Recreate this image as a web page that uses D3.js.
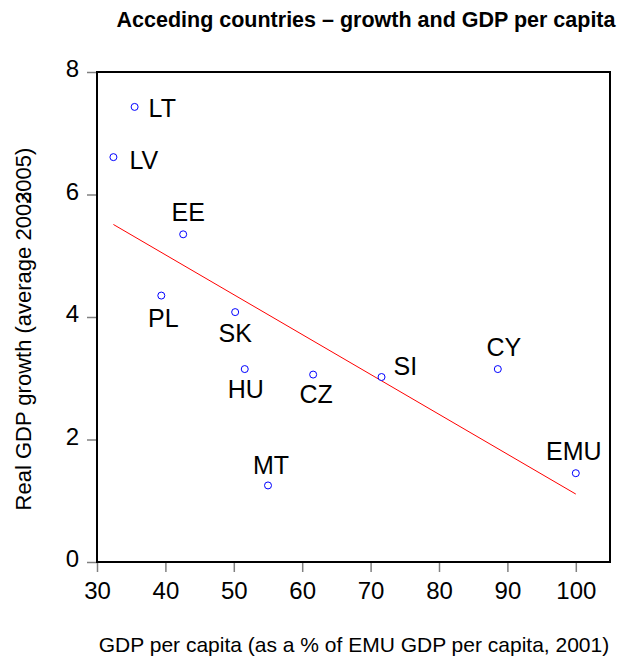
<!DOCTYPE html>
<html>
<head>
<meta charset="utf-8">
<script src="https://cdn.jsdelivr.net/npm/d3@7"></script>
<style>
  body { margin: 0; background: #fff; }
  svg text { font-family: Arial, "Liberation Sans", sans-serif; }
</style>
</head>
<body>
<div id="chart"></div>
<script>
// country codes and values
const countries = ["LT", "LV", "EE", "PL", "SK", "HU", "CZ", "SI", "CY", "MT", "EMU"];
// GDP per capita, % of EMU GDP per capita (2001)
const gdpPerCapita = [35.5, 32.4, 42.6, 39.4, 50.2, 51.6, 61.6, 71.6, 88.6, 55.0, 100.0];
// real GDP growth, average 2003-2005
const gdpGrowth = [7.43, 6.61, 5.35, 4.35, 4.08, 3.15, 3.06, 3.02, 3.15, 1.25, 1.45];

const xTicks = [30, 40, 50, 60, 70, 80, 90, 100];
const yTicks = [0, 2, 4, 6, 8];

// where each label sits relative to its point
const labelPlace = {
  LT: [14, 1, "start"], LV: [16, 3, "start"], EE: [5, -22, "middle"],
  PL: [2, 22, "middle"], SK: [0, 21, "middle"], HU: [1, 20, "middle"],
  CZ: [3, 19, "middle"], SI: [12, -11, "start"], CY: [6, -22, "middle"],
  MT: [3, -20, "middle"], EMU: [-2, -22, "middle"]
};

const width = 623, height = 665;
const plotLeft = 97, plotRight = 610, plotTop = 72, plotBottom = 562;

const svg = d3.select("#chart").append("svg")
  .attr("width", width)
  .attr("height", height);

svg.append("rect").attr("width", width).attr("height", height).attr("fill", "#fff");

const x = d3.scaleLinear().domain([30, 105]).range([plotLeft, plotRight]);
const y = d3.scaleLinear().domain([0, 8]).range([plotBottom, plotTop]);

// title
svg.append("text")
  .attr("x", 366).attr("y", 27)
  .attr("text-anchor", "middle")
  .style("font-weight", "bold")
  .style("font-size", "21.5px")
  .text("Acceding countries \u2013 growth and GDP per capita");

// axes
const xAxis = svg.append("g")
  .attr("transform", `translate(0,${plotBottom})`)
  .call(d3.axisBottom(x).tickValues(xTicks).tickSize(10).tickPadding(8));
const yAxis = svg.append("g")
  .attr("transform", `translate(${plotLeft},0)`)
  .call(d3.axisLeft(y).tickValues(yTicks).tickSize(10).tickPadding(8));

[xAxis, yAxis].forEach(a => {
  a.select(".domain").remove();
  a.selectAll(".tick line").attr("stroke", "#808080").attr("stroke-width", 1.5);
  a.selectAll(".tick text")
    .attr("fill", "#000")
    .style("font-size", "24px")
    .style("font-family", "Arial, 'Liberation Sans', sans-serif");
});
yAxis.selectAll(".tick text").attr("dy", "0.19em");
xAxis.selectAll(".tick text").attr("dy", "0.8em");

// plot frame
svg.append("rect")
  .attr("x", plotLeft).attr("y", plotTop)
  .attr("width", plotRight - plotLeft).attr("height", plotBottom - plotTop)
  .attr("fill", "none")
  .attr("stroke", "#000")
  .attr("stroke-width", 2);

// least squares fit over all points
const mx = d3.mean(gdpPerCapita), my = d3.mean(gdpGrowth);
const slope = d3.sum(gdpPerCapita, (v, i) => (v - mx) * (gdpGrowth[i] - my)) /
  d3.sum(gdpPerCapita, v => (v - mx) * (v - mx));
const fit = v => my + slope * (v - mx);
const xExt = d3.extent(gdpPerCapita);

svg.append("path")
  .datum(xExt)
  .attr("d", d3.line().x(d => x(d)).y(d => y(fit(d))))
  .attr("fill", "none")
  .attr("stroke", "#ff0000")
  .attr("stroke-width", 1);

// points
svg.append("g").selectAll("circle")
  .data(countries)
  .join("circle")
  .attr("cx", (d, i) => x(gdpPerCapita[i]))
  .attr("cy", (d, i) => y(gdpGrowth[i]))
  .attr("r", 3.5)
  .attr("fill", "#fff")
  .attr("stroke", "#0000ff")
  .attr("stroke-width", 1);

// country labels
svg.append("g").selectAll("text")
  .data(countries)
  .join("text")
  .attr("x", (d, i) => x(gdpPerCapita[i]) + labelPlace[d][0])
  .attr("y", (d, i) => y(gdpGrowth[i]) + labelPlace[d][1])
  .attr("dy", "0.36em")
  .attr("text-anchor", d => labelPlace[d][2])
  .style("font-size", "25px")
  .text(d => d);

// axis titles
svg.append("text")
  .attr("x", 354).attr("y", 652)
  .attr("text-anchor", "middle")
  .style("font-size", "21px")
  .text("GDP per capita (as a % of EMU GDP per capita, 2001)");

// the original prints the year range with the two years overlapping
const yTitle = svg.append("text")
  .attr("transform", "translate(31,329) rotate(-90)")
  .attr("text-anchor", "middle")
  .style("font-size", "22px");
yTitle.append("tspan").text("Real GDP growth (average 2003");
yTitle.append("tspan").attr("dx", "-0.556em").text("2005)");
</script>
</body>
</html>
